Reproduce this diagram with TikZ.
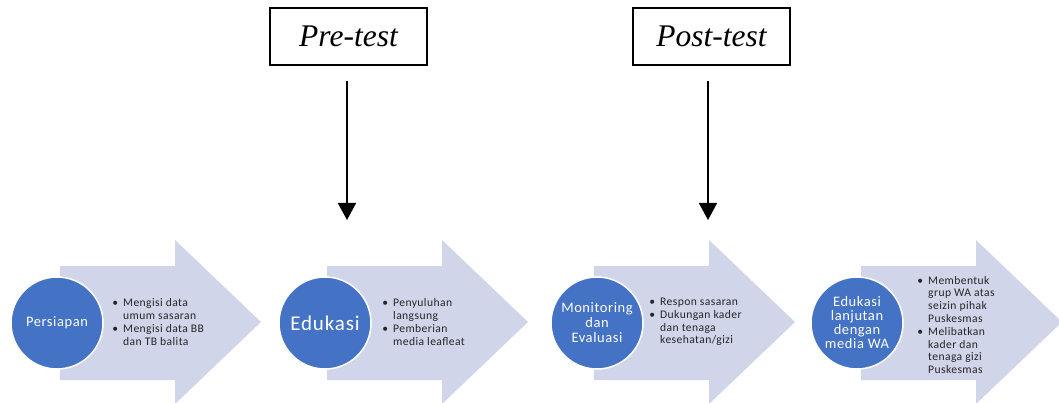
\documentclass[tikz,border=0pt]{standalone}
\usepackage{fontspec}
\setmainfont{Carlito}
\newfontfamily\tnr{Liberation Serif}
\newfontfamily\lsp[LetterSpace=4]{Carlito}
\newfontfamily\lspb[LetterSpace=3.5]{Carlito}
\usetikzlibrary{arrows.meta}
\definecolor{arrowfill}{HTML}{D0D5EA}
\definecolor{circblue}{HTML}{4472C4}
\definecolor{bultext}{HTML}{262626}
\newcommand\bul{\llap{\textbullet\hspace{5pt}}}
\tikzset{
  circ/.style={circle, fill=circblue, draw=white, line width=1.5pt, minimum size=92pt, inner sep=0pt,
    text=white, align=center, font=\lsp\fontsize{14.5}{15}\selectfont},
  bullets/.style={anchor=west, align=left, text=bultext, inner sep=0pt,
    font=\lspb\fontsize{11.6}{12.8}\selectfont},
  testbox/.style={draw=black, line width=1.4pt, minimum width=157pt, minimum height=57pt,
    font=\tnr\itshape\fontsize{31.5}{34}\selectfont},
  conn/.style={line width=1.8pt, -{Triangle[width=18pt,length=17pt]}}
}
\begin{document}
\begin{tikzpicture}[x=1pt,y=-1pt]
\useasboundingbox (0,0) rectangle (1059,403);
% big arrows
\foreach \i in {0,1,2,3}{
  \pgfmathsetmacro\L{60+267*\i}
  \pgfmathsetmacro\H{175+267*\i}
  \pgfmathsetmacro\T{261+267*\i}
  \fill[arrowfill] (\L,266) -- (\H,266) -- (\H,240) -- (\T,322) -- (\H,404) -- (\H,380) -- (\L,380) -- cycle;
}
% circles
\node[circ] (c1) at (57,323) {Persiapan};
\node[circ, font=\lsp\fontsize{21}{24}\selectfont] (c2) at (325,323) {Edukasi};
\node[circ] (c3) at (597,323) {Monitoring\\dan\\Evaluasi};
\node[circ, font=\lsp\fontsize{14.5}{14}\selectfont] (c4) at (857,323) {Edukasi\\lanjutan\\dengan\\media WA};
% bullet texts
\node[bullets] (b1) at (123,322) {\bul Mengisi data\\umum sasaran\\\bul Mengisi data BB\\dan TB balita};
\node[bullets] (b2) at (393,322) {\bul Penyuluhan\\langsung\\\bul Pemberian\\media leafleat};
\node[bullets] (b3) at (660,322) {\bul Respon sasaran\\\bul Dukungan kader\\dan tenaga\\kesehatan/gizi};
\node[bullets] (b4) at (928,325) {\bul Membentuk\\grup WA atas\\seizin pihak\\Puskesmas\\\bul Melibatkan\\kader dan\\tenaga gizi\\Puskesmas};
% test boxes
\node[testbox] (pre) at (348.5,36.5) {Pre-test};
\node[testbox] (post) at (711.5,36.5) {Post-test};
\coordinate (preend) at (347,220);
\coordinate (postend) at (708,220);
\draw[conn, shorten <=15pt] (pre.south -| preend) -- (preend);
\draw[conn, shorten <=15pt] (post.south -| postend) -- (postend);
\end{tikzpicture}
\end{document}
